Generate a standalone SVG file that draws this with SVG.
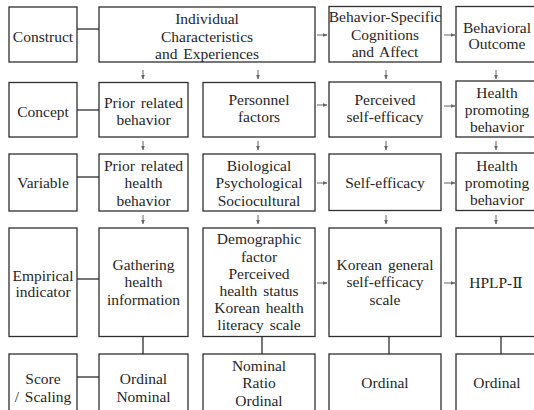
<svg xmlns="http://www.w3.org/2000/svg" width="534" height="410" viewBox="0 0 534 410">
<defs>
<marker id="ah" viewBox="0 0 6 6" refX="5.5" refY="3" markerWidth="4.5" markerHeight="4.5" orient="auto" markerUnits="userSpaceOnUse"><path d="M0,0.5 L6,3 L0,5.5 z" fill="#666"/></marker>
</defs>
<style>
.box{fill:#fff;stroke:#2e2e2e;stroke-width:1.3}
.t{font-family:'Liberation Serif','DejaVu Serif','Noto Sans CJK KR',serif;font-size:15.5px;fill:#262626;text-anchor:middle;word-spacing:2px}
.ln{stroke:#2e2e2e;stroke-width:1.3;fill:none}
.ar{stroke:#666;stroke-width:1;fill:none;marker-end:url(#ah)}
</style>
<rect width="534" height="410" fill="#fff"/>
<g id="connectors">
<line class="ln" x1="77" y1="29" x2="99" y2="29"/>
<line class="ln" x1="77" y1="110" x2="99" y2="110"/>
<line class="ln" x1="77" y1="177" x2="99" y2="177"/>
<line class="ln" x1="77" y1="279" x2="99" y2="279"/>
<line class="ln" x1="77" y1="377" x2="99" y2="377"/>
<line class="ln" x1="143" y1="336.5" x2="143" y2="354"/>
<line class="ln" x1="262" y1="336.5" x2="262" y2="354"/>
<line class="ln" x1="389" y1="336.5" x2="389" y2="354"/>
<line class="ln" x1="501" y1="336.5" x2="501" y2="354"/>
<line class="ar" x1="317" y1="35" x2="327" y2="35"/>
<line class="ar" x1="444" y1="35" x2="455" y2="35"/>
<line class="ar" x1="317" y1="105" x2="327" y2="105"/>
<line class="ar" x1="444" y1="106" x2="455" y2="106"/>
<line class="ar" x1="317" y1="183" x2="327" y2="183"/>
<line class="ar" x1="444" y1="183" x2="455" y2="183"/>
<line class="ar" x1="317" y1="283" x2="327" y2="283"/>
<line class="ar" x1="444" y1="283" x2="455" y2="283"/>
<line class="ar" x1="143" y1="70" x2="143" y2="79"/>
<line class="ar" x1="258" y1="70" x2="258" y2="79"/>
<line class="ar" x1="386" y1="70" x2="386" y2="79"/>
<line class="ar" x1="496" y1="70" x2="496" y2="79"/>
<line class="ar" x1="143" y1="141" x2="143" y2="150"/>
<line class="ar" x1="258" y1="141" x2="258" y2="150"/>
<line class="ar" x1="386" y1="141" x2="386" y2="150"/>
<line class="ar" x1="496" y1="141" x2="496" y2="150"/>
<line class="ar" x1="143" y1="215" x2="143" y2="224"/>
<line class="ar" x1="258" y1="215" x2="258" y2="224"/>
<line class="ar" x1="386" y1="215" x2="386" y2="224"/>
<line class="ar" x1="496" y1="215" x2="496" y2="224"/>
</g>
<g id="construct"><rect class="box" x="9" y="7" width="68" height="55"/><text class="t" x="43" y="41.5">Construct</text></g>
<g id="individual"><rect class="box" x="99" y="7" width="216" height="55"/><text class="t" x="207" y="24">Individual</text><text class="t" x="207" y="41.5">Characteristics</text><text class="t" x="207" y="59">and Experiences</text></g>
<g id="behavior-specific"><rect class="box" x="329" y="6.5" width="112" height="55.5"/><text class="t" x="385" y="21.5">Behavior-Specific</text><text class="t" x="385" y="39.5">Cognitions</text><text class="t" x="385" y="57">and Affect</text></g>
<g id="behavioral-outcome"><rect class="box" x="456" y="6.5" width="90" height="55.5"/><text class="t" x="497" y="32.5">Behavioral</text><text class="t" x="497" y="49">Outcome</text></g>
<g id="concept"><rect class="box" x="9" y="82.5" width="68" height="54.5"/><text class="t" x="43" y="117">Concept</text></g>
<g id="prior-behavior"><rect class="box" x="99" y="82.5" width="89" height="54.5"/><text class="t" x="143.5" y="107.5">Prior related</text><text class="t" x="143.5" y="125">behavior</text></g>
<g id="personnel-factors"><rect class="box" x="203" y="82.5" width="112" height="54.5"/><text class="t" x="259" y="105">Personnel</text><text class="t" x="259" y="122">factors</text></g>
<g id="perceived-self-efficacy"><rect class="box" x="329" y="82" width="112" height="55"/><text class="t" x="385" y="104.5">Perceived</text><text class="t" x="385" y="121.5">self-efficacy</text></g>
<g id="health-promoting-concept"><rect class="box" x="456" y="81" width="90" height="56"/><text class="t" x="497" y="97.5">Health</text><text class="t" x="497" y="114.5">promoting</text><text class="t" x="497" y="131.5">behavior</text></g>
<g id="variable"><rect class="box" x="9" y="154" width="68" height="57"/><text class="t" x="43" y="187.5">Variable</text></g>
<g id="prior-health-behavior"><rect class="box" x="99" y="154" width="89" height="57"/><text class="t" x="143.5" y="170.5">Prior related</text><text class="t" x="143.5" y="188">health</text><text class="t" x="143.5" y="205.5">behavior</text></g>
<g id="bio-psycho-socio"><rect class="box" x="203" y="154" width="112" height="57"/><text class="t" x="259" y="170.5">Biological</text><text class="t" x="259" y="188">Psychological</text><text class="t" x="259" y="205.5">Sociocultural</text></g>
<g id="self-efficacy"><rect class="box" x="329" y="154" width="112" height="56.5"/><text class="t" x="385" y="187.5">Self-efficacy</text></g>
<g id="health-promoting-variable"><rect class="box" x="456" y="153" width="90" height="57.5"/><text class="t" x="497" y="170.5">Health</text><text class="t" x="497" y="187.5">promoting</text><text class="t" x="497" y="205">behavior</text></g>
<g id="empirical-indicator"><rect class="box" x="9" y="228" width="68" height="108.5"/><text class="t" x="43" y="280.5">Empirical</text><text class="t" x="43" y="297">indicator</text></g>
<g id="gathering"><rect class="box" x="99" y="228" width="89" height="108.5"/><text class="t" x="143.5" y="269.5">Gathering</text><text class="t" x="143.5" y="287">health</text><text class="t" x="143.5" y="304.5">information</text></g>
<g id="demographic"><rect class="box" x="203" y="228" width="112" height="108.5"/><text class="t" x="259" y="244">Demographic</text><text class="t" x="259" y="261.5">factor</text><text class="t" x="259" y="278.5">Perceived</text><text class="t" x="259" y="296">health status</text><text class="t" x="259" y="313">Korean health</text><text class="t" x="259" y="330">literacy scale</text></g>
<g id="korean-scale"><rect class="box" x="329" y="228" width="112" height="108.5"/><text class="t" x="385" y="269.5">Korean general</text><text class="t" x="385" y="287">self-efficacy</text><text class="t" x="385" y="304.5">scale</text></g>
<g id="hplp"><rect class="box" x="456" y="228" width="90" height="108.5"/><text class="t" x="496" y="287.5">HPLP-Ⅱ</text></g>
<g id="score-scaling"><rect class="box" x="9" y="354" width="68" height="70"/><text class="t" x="43" y="384">Score</text><text class="t" x="43" y="401.5">/ Scaling</text></g>
<g id="ordinal-nominal"><rect class="box" x="99" y="354" width="89" height="70"/><text class="t" x="143.5" y="384">Ordinal</text><text class="t" x="143.5" y="401.5">Nominal</text></g>
<g id="nominal-ratio-ordinal"><rect class="box" x="203" y="354" width="112" height="70"/><text class="t" x="259" y="371">Nominal</text><text class="t" x="259" y="388">Ratio</text><text class="t" x="259" y="405.5">Ordinal</text></g>
<g id="ordinal-3"><rect class="box" x="329" y="354" width="112" height="70"/><text class="t" x="385" y="388">Ordinal</text></g>
<g id="ordinal-4"><rect class="box" x="456" y="354" width="90" height="70"/><text class="t" x="497" y="388">Ordinal</text></g>
</svg>
